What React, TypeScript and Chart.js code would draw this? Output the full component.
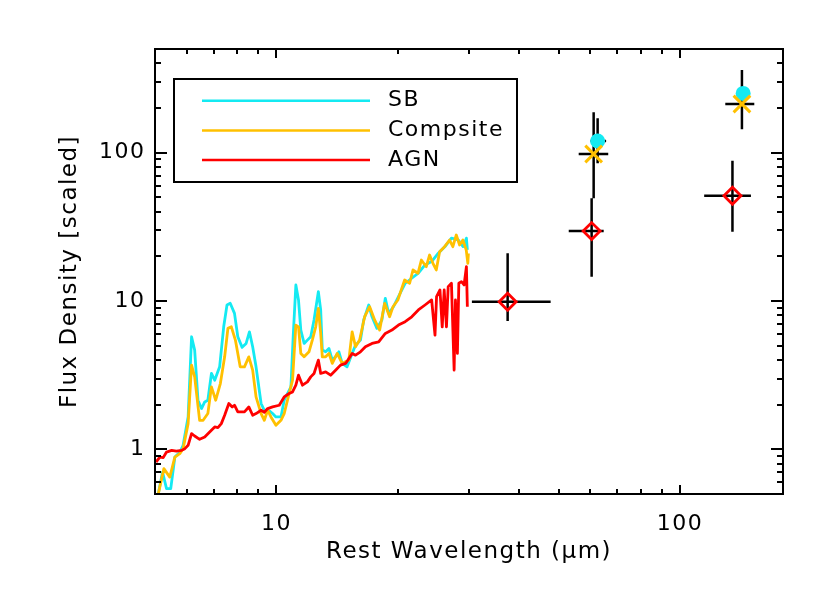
import React, { useEffect, useRef } from 'react';
import { Chart, registerables } from 'chart.js';

Chart.register(...registerables);

// ---------- axis setup ----------
const X_MIN = 5;
const X_MAX = 180;
const Y_MIN = 0.5;
const Y_MAX = 500;
const xTickValues = [10, 100];
const yTickValues = [1, 10, 100];
const xTitle = 'Rest Wavelength (\u03BCm)';
const yTitle = 'Flux Density [scaled]';

// ---------- legend ----------
const seriesNames = ['SB', 'Compsite', 'AGN'];
const seriesColors = ['#14EAF2', '#FFC000', '#FF0000'];

// ---------- spectra ----------
const sbWave = [5.095, 5.22, 5.34, 5.47, 5.60, 5.76, 5.87, 6.04, 6.16, 6.27, 6.39, 6.52, 6.64, 6.76, 6.90, 7.03, 7.23, 7.40, 7.54, 7.68, 7.87, 8.02, 8.22, 8.41, 8.57, 8.73, 8.90, 9.16, 9.33, 9.60, 9.78, 9.97, 10.26, 10.45, 10.65, 10.86, 11.00, 11.17, 11.34, 11.49, 11.71, 11.93, 12.16, 12.39, 12.70, 12.87, 12.99, 13.24, 13.49, 13.75, 14.01, 14.28, 14.55, 14.96, 15.40, 15.70, 16.15, 16.45, 16.93, 17.25, 17.74, 18.25, 18.61, 18.96, 19.50, 20.06, 20.84, 21.64, 22.47, 23.34, 24.24, 25.18, 26.16, 27.14, 28.20, 29.01, 29.56, 29.72];
const sbFlux = [0.502, 0.703, 0.543, 0.543, 0.887, 0.954, 1.064, 1.653, 5.74, 4.67, 2.144, 1.884, 2.087, 2.144, 3.248, 2.925, 3.60, 6.70, 9.40, 9.65, 8.26, 5.74, 4.87, 5.18, 6.20, 4.912, 3.60, 2.036, 1.835, 1.82, 1.743, 1.653, 1.653, 2.144, 2.379, 2.636, 5.74, 12.83, 10.16, 6.37, 5.18, 5.45, 5.74, 7.44, 11.56, 8.70, 4.67, 4.545, 4.79, 3.996, 4.204, 4.545, 3.795, 3.60, 4.434, 5.04, 5.45, 7.44, 9.40, 7.83, 6.54, 7.44, 10.43, 8.26, 9.15, 10.69, 13.17, 14.24, 15.39, 17.51, 18.44, 21.01, 23.28, 26.53, 25.84, 23.28, 26.53, 22.12];

const compWave = [5.095, 5.26, 5.44, 5.60, 5.76, 5.87, 6.04, 6.16, 6.27, 6.45, 6.58, 6.76, 6.90, 7.07, 7.26, 7.44, 7.58, 7.73, 7.91, 8.13, 8.33, 8.54, 8.73, 8.90, 9.16, 9.33, 9.51, 9.69, 9.97, 10.26, 10.45, 10.75, 10.96, 11.17, 11.34, 11.49, 11.71, 12.04, 12.27, 12.51, 12.70, 12.87, 12.99, 13.24, 13.49, 13.75, 14.14, 14.55, 15.11, 15.40, 15.70, 16.07, 16.54, 17.02, 17.51, 18.02, 18.54, 19.07, 19.44, 19.99, 20.38, 20.78, 21.38, 21.79, 22.42, 22.86, 23.51, 23.96, 24.42, 24.89, 25.37, 26.10, 26.85, 27.36, 27.90, 28.43, 28.97, 29.53, 29.80, 29.90];
const compFlux = [0.502, 0.741, 0.650, 0.887, 0.935, 1.011, 1.491, 3.696, 3.08, 1.570, 1.570, 1.743, 2.636, 2.144, 2.778, 4.204, 6.54, 6.70, 5.45, 3.60, 3.60, 4.204, 3.42, 2.256, 1.743, 1.570, 1.835, 1.653, 1.453, 1.570, 1.743, 2.379, 2.925, 6.88, 6.70, 4.434, 4.204, 4.545, 5.45, 6.70, 8.93, 6.05, 4.204, 4.204, 4.434, 3.795, 4.434, 3.795, 3.996, 6.20, 4.912, 5.46, 7.84, 9.15, 7.45, 6.37, 9.65, 7.84, 9.15, 10.16, 11.87, 13.86, 13.17, 16.19, 15.38, 18.90, 17.03, 20.43, 17.96, 16.19, 21.50, 23.24, 25.78, 23.24, 27.87, 23.86, 25.78, 22.08, 17.96, 20.97];

const agnWave = [5.03, 5.14, 5.24, 5.34, 5.50, 5.65, 5.82, 5.93, 6.04, 6.16, 6.27, 6.45, 6.64, 6.83, 7.03, 7.16, 7.30, 7.44, 7.62, 7.77, 7.87, 8.02, 8.33, 8.54, 8.73, 8.90, 9.16, 9.33, 9.51, 9.78, 10.16, 10.45, 10.75, 10.96, 11.17, 11.34, 11.60, 11.93, 12.16, 12.39, 12.70, 12.87, 13.24, 13.62, 14.01, 14.41, 14.84, 15.40, 15.70, 16.15, 16.61, 17.25, 17.92, 18.61, 19.32, 20.06, 20.84, 21.64, 22.47, 23.34, 24.24, 24.71, 24.93, 25.42, 25.75, 26.04, 26.38, 26.64, 27.14, 27.56, 27.77, 28.08, 28.31, 28.73, 29.17, 29.56, 29.72];
const agnFlux = [0.821, 0.887, 0.879, 0.959, 0.984, 0.974, 0.984, 1.011, 1.064, 1.277, 1.23, 1.168, 1.211, 1.309, 1.415, 1.402, 1.491, 1.697, 2.036, 1.931, 1.983, 1.787, 1.787, 1.931, 1.697, 1.743, 1.835, 1.778, 1.884, 1.931, 1.983, 2.256, 2.379, 2.439, 2.707, 3.162, 2.707, 2.85, 3.08, 3.248, 3.996, 3.248, 3.33, 3.162, 3.419, 3.696, 3.795, 4.434, 4.317, 4.545, 4.912, 5.18, 5.31, 6.05, 6.37, 6.88, 7.25, 7.83, 8.70, 9.40, 10.16, 5.89, 10.69, 11.87, 6.70, 11.87, 6.70, 12.50, 13.17, 3.42, 10.16, 4.43, 13.17, 13.50, 12.83, 17.06, 9.15];

// ---------- photometry ----------
const sbPhotWave = [62.5, 143.4];
const sbPhotFlux = [120, 251];
const sbErrXLo = [60.0, null];
const sbErrXHi = [65.6, null];
const sbErrYLo = [84.8, null];
const sbErrYHi = [170.6, null];

const compPhotWave = [61.1, 142.4];
const compPhotFlux = [98, 213];
const compErrXLo = [56.1, 129.5];
const compErrXHi = [66.4, 152.8];
const compErrYLo = [49.3, 143.8];
const compErrYHi = [187.3, 361];

const agnPhotWave = [37.4, 60.4, 134.9];
const agnPhotFlux = [9.9, 29.6, 51.3];
const agnErrXLo = [30.5, 53.0, 114.8];
const agnErrXHi = [47.8, 64.7, 149.9];
const agnErrYLo = [7.33, 14.6, 29.3];
const agnErrYHi = [20.97, 49.3, 88.3];

const FONT = "'DejaVu Sans', sans-serif";

const toPoints = (xs: number[], ys: number[]) => xs.map((x, i) => ({ x, y: ys[i] }));

function errorSegments(
  xs: number[], ys: number[],
  xlo: (number | null)[], xhi: (number | null)[],
  ylo: (number | null)[], yhi: (number | null)[],
) {
  const pts: { x: number; y: number | null }[] = [];
  xs.forEach((x, i) => {
    if (xlo[i] != null && xhi[i] != null) {
      pts.push({ x: xlo[i] as number, y: ys[i] }, { x: xhi[i] as number, y: ys[i] }, { x, y: null });
    }
    if (ylo[i] != null && yhi[i] != null) {
      pts.push({ x, y: ylo[i] as number }, { x, y: yhi[i] as number }, { x, y: null });
    }
  });
  return pts;
}

const errorData = [
  ...errorSegments(sbPhotWave, sbPhotFlux, sbErrXLo, sbErrXHi, sbErrYLo, sbErrYHi),
  ...errorSegments(compPhotWave, compPhotFlux, compErrXLo, compErrXHi, compErrYLo, compErrYHi),
  ...errorSegments(agnPhotWave, agnPhotFlux, agnErrXLo, agnErrXHi, agnErrYLo, agnErrYHi),
];

const spacingPlugin = {
  id: 'spacing',
  beforeDraw(chart: any) {
    chart.ctx.letterSpacing = '1.5px';
  },
};

function minorTicks(min: number, max: number) {
  const out: number[] = [];
  for (let e = Math.floor(Math.log10(min)); e <= Math.ceil(Math.log10(max)); e++) {
    const d = Math.pow(10, e);
    for (let m = 1; m <= 9; m++) {
      const v = m * d;
      if (v > min && v < max) out.push(v);
    }
  }
  return out;
}

const framePlugin = {
  id: 'frame',
  afterDraw(chart: any) {
    const { ctx, chartArea, scales } = chart;
    const { left, right, top, bottom } = chartArea;
    ctx.save();
    ctx.strokeStyle = '#000';
    ctx.lineWidth = 2;
    ctx.lineCap = 'butt';
    ctx.beginPath();
    ctx.rect(left, top, right - left, bottom - top);
    ctx.stroke();
    ctx.beginPath();
    minorTicks(X_MIN, X_MAX).forEach((v) => {
      const px = Math.round(scales.x.getPixelForValue(v));
      const major = xTickValues.includes(v);
      const len = major ? 9 : 5;
      ctx.moveTo(px, bottom);
      ctx.lineTo(px, bottom - len);
      ctx.moveTo(px, top);
      ctx.lineTo(px, top + len);
    });
    minorTicks(Y_MIN, Y_MAX).forEach((v) => {
      const py = Math.round(scales.y.getPixelForValue(v));
      const major = yTickValues.includes(v);
      const len = major ? 12 : 6;
      ctx.moveTo(left, py);
      ctx.lineTo(left + len, py);
      ctx.moveTo(right, py);
      ctx.lineTo(right - len, py);
    });
    ctx.stroke();
    ctx.restore();
  },
};

const legendPlugin = {
  id: 'boxLegend',
  afterDraw(chart: any) {
    const { ctx, chartArea } = chart;
    const bx = chartArea.left + 19;
    const by = chartArea.top + 30;
    const bw = 343;
    const bh = 103;
    ctx.save();
    ctx.strokeStyle = '#000';
    ctx.lineWidth = 2;
    ctx.strokeRect(bx, by, bw, bh);
    ctx.font = `22px ${FONT}`;
    ctx.fillStyle = '#000';
    ctx.textBaseline = 'middle';
    ctx.textAlign = 'left';
    ctx.letterSpacing = '1.5px';
    seriesNames.forEach((name, i) => {
      const y = by + 21.7 + i * 29.7;
      ctx.strokeStyle = seriesColors[i];
      ctx.lineWidth = 2.5;
      ctx.beginPath();
      ctx.moveTo(bx + 28, y);
      ctx.lineTo(bx + 196, y);
      ctx.stroke();
      ctx.fillText(name, bx + 214, y);
    });
    ctx.restore();
  },
};

export default function App() {
  const ref = useRef<HTMLCanvasElement>(null);

  useEffect(() => {
    if (!ref.current) return;
    const lineBase = {
      showLine: true,
      pointRadius: 0,
      borderWidth: 2.8,
      borderJoinStyle: 'round' as const,
      fill: false,
    };
    const chart = new Chart(ref.current, {
      type: 'scatter',
      data: {
        datasets: [
          {
            label: 'AGN phot',
            data: toPoints(agnPhotWave, agnPhotFlux),
            pointStyle: 'rectRot',
            pointRadius: 8.5,
            borderColor: seriesColors[2],
            backgroundColor: 'rgba(0,0,0,0)',
            borderWidth: 2.8,
            order: 0,
          },
          {
            label: 'Composite phot',
            data: toPoints(compPhotWave, compPhotFlux),
            pointStyle: 'crossRot',
            pointRadius: 11.8,
            borderColor: seriesColors[1],
            backgroundColor: seriesColors[1],
            borderWidth: 3,
            order: 1,
          },
          {
            label: 'SB phot',
            data: toPoints(sbPhotWave, sbPhotFlux),
            pointStyle: 'circle',
            pointRadius: 7.5,
            borderWidth: 0,
            backgroundColor: seriesColors[0],
            borderColor: seriesColors[0],
            order: 2,
          },
          {
            label: 'errors',
            data: errorData as any,
            showLine: true,
            pointRadius: 0,
            borderColor: '#000',
            borderWidth: 2.5,
            spanGaps: false,
            order: 3,
          },
          { label: seriesNames[2], data: toPoints(agnWave, agnFlux), borderColor: seriesColors[2], ...lineBase, order: 4 },
          { label: seriesNames[1], data: toPoints(compWave, compFlux), borderColor: seriesColors[1], ...lineBase, order: 5 },
          { label: seriesNames[0], data: toPoints(sbWave, sbFlux), borderColor: seriesColors[0], ...lineBase, order: 6 },
        ] as any,
      },
      options: {
        animation: false,
        responsive: false,
        devicePixelRatio: 1,
        events: [],
        layout: { padding: { top: 49, right: 47, left: 0, bottom: 0 } },
        plugins: { legend: { display: false }, tooltip: { enabled: false } },
        scales: {
          x: {
            type: 'logarithmic',
            position: 'bottom',
            min: X_MIN,
            max: X_MAX,
            afterFit: (s: any) => { s.height = 99; },
            afterBuildTicks: (s: any) => { s.ticks = xTickValues.map((v) => ({ value: v })); },
            ticks: {
              autoSkip: false,
              maxRotation: 0,
              padding: 17,
              color: '#000',
              font: { family: FONT, size: 22 },
              callback: (v: any) => String(v),
            },
            grid: { display: false, drawTicks: false },
            border: { display: false },
            title: {
              display: true,
              text: xTitle,
              color: '#000',
              font: { family: FONT, size: 23 },
              padding: { top: 0, bottom: 27 },
            },
          },
          y: {
            type: 'logarithmic',
            position: 'left',
            min: Y_MIN,
            max: Y_MAX,
            afterFit: (s: any) => { s.width = 155; },
            afterBuildTicks: (s: any) => { s.ticks = yTickValues.map((v) => ({ value: v })); },
            ticks: {
              autoSkip: false,
              padding: 9.5,
              color: '#000',
              font: { family: FONT, size: 22 },
              callback: (v: any) => String(v),
            },
            grid: { display: false, drawTicks: false },
            border: { display: false },
            title: {
              display: true,
              text: yTitle,
              color: '#000',
              font: { family: FONT, size: 23 },
              padding: { top: 56, bottom: 0 },
            },
          },
        },
      } as any,
      plugins: [spacingPlugin, framePlugin, legendPlugin],
    });
    return () => chart.destroy();
  }, []);

  return (
    <div style={{ position: 'absolute', left: 0, top: 0, width: 830, height: 593, background: '#fff' }}>
      <canvas ref={ref} width={830} height={593} style={{ display: 'block', width: 830, height: 593 }} />
    </div>
  );
}
